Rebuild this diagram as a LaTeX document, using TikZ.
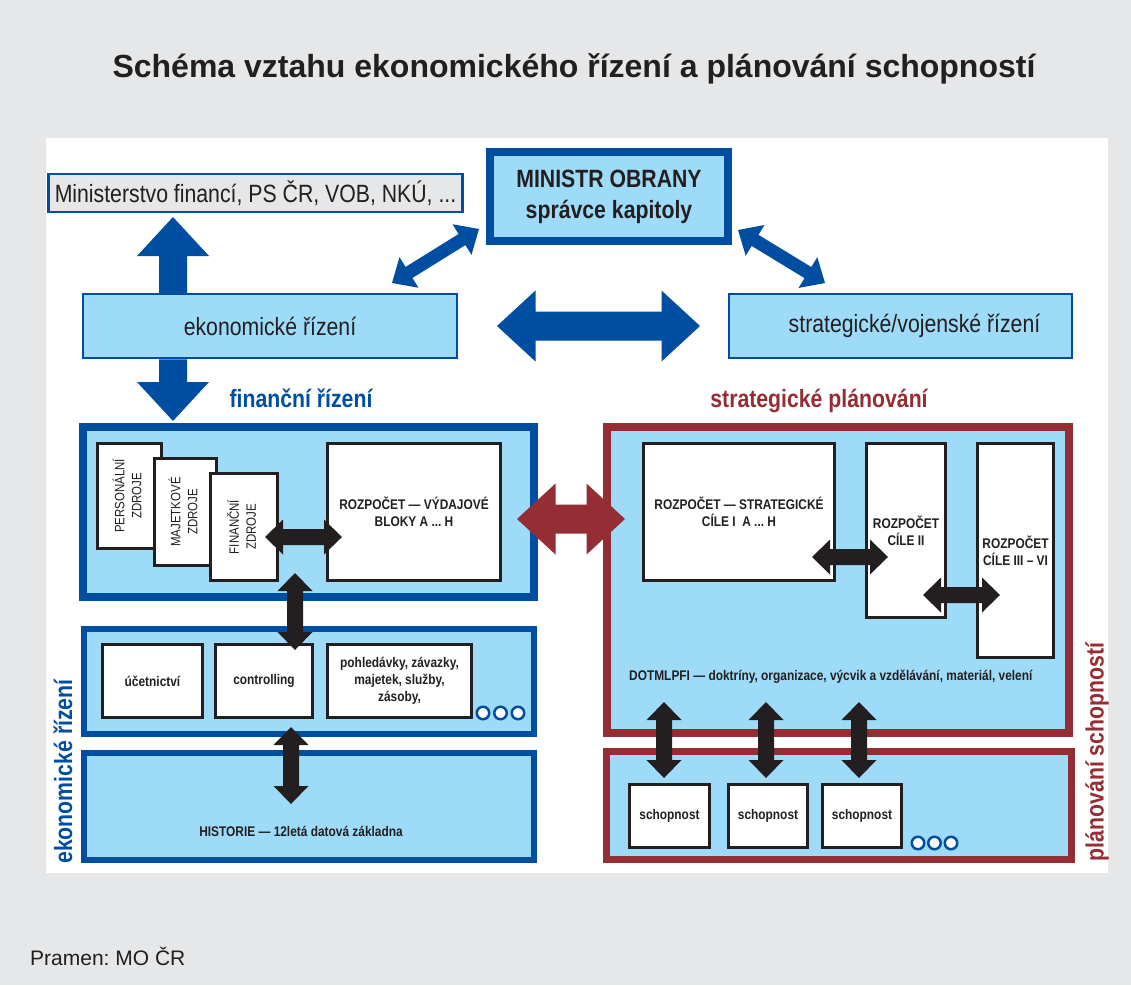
\documentclass[tikz,border=0pt]{standalone}
\usepackage{fontspec}
\setmainfont{Liberation Sans}
\newfontfamily\narrowfont[FakeStretch=0.85]{Liberation Sans}
\usetikzlibrary{calc}
\frenchspacing

\definecolor{pagegray}{HTML}{E6E7E8}
\definecolor{mzblue}{HTML}{004EA1}
\definecolor{paleblue}{HTML}{9EDBF8}
\definecolor{spred}{HTML}{952D34}
\definecolor{inkblack}{HTML}{231F20}

% fat arrow, one head: colour, from, to, half shaft, half head, head length
\newcommand\fatone[6]{%
  \coordinate (hb) at ($(#3)!#6!(#2)$);
  \fill[#1] ($(#2)!#4!90:(#3)$) -- ($(hb)!#4!-90:(#2)$) -- ($(hb)!#5!-90:(#2)$) -- (#3)
    -- ($(hb)!#5!90:(#2)$) -- ($(hb)!#4!90:(#2)$) -- ($(#2)!#4!-90:(#3)$) -- cycle;}
% fat arrow, two heads
\newcommand\fattwo[6]{%
  \coordinate (ha) at ($(#2)!#6!(#3)$);
  \coordinate (hb) at ($(#3)!#6!(#2)$);
  \fill[#1] (#2) -- ($(ha)!#5!90:(#3)$) -- ($(ha)!#4!90:(#3)$) -- ($(hb)!#4!-90:(#2)$)
    -- ($(hb)!#5!-90:(#2)$) -- (#3) -- ($(hb)!#5!90:(#2)$) -- ($(hb)!#4!90:(#2)$)
    -- ($(ha)!#4!-90:(#3)$) -- ($(ha)!#5!-90:(#3)$) -- cycle;}
\newcommand\blackarrow[2]{\fattwo{inkblack}{#1}{#2}{8pt}{17.5pt}{18pt}}

\tikzset{
  thinbox/.style={draw=mzblue, line width=2.5, fill=paleblue, inner sep=0, outer sep=0},
  heavybox/.style={draw=mzblue, line width=8, fill=paleblue, inner sep=0, outer sep=0},
  midbox/.style={draw=mzblue, line width=6, fill=paleblue, inner sep=0, outer sep=0},
  redbox/.style={draw=spred, line width=8, fill=paleblue, inner sep=0, outer sep=0},
  whitebox/.style={draw=inkblack, line width=3, fill=white, inner sep=0, outer sep=0,
    align=center, text=inkblack, font=\narrowfont\bfseries\fontsize{14}{17}\selectfont},
  zdrojbox/.style={whitebox, font=\narrowfont\fontsize{13.5}{17}\selectfont},
  ring/.style={circle, draw=mzblue, line width=2.5, fill=white, minimum size=12.5, inner sep=0},
  bigtxt/.style={text=inkblack, font=\narrowfont\fontsize{25}{31}\selectfont},
  bigbold/.style={text=inkblack, align=center, font=\narrowfont\bfseries\fontsize{25}{31}\selectfont},
  sectlbl/.style={inner sep=0, font=\narrowfont\bfseries\fontsize{25}{30}\selectfont},
  smalltxt/.style={inner sep=0, text=inkblack, font=\narrowfont\bfseries\fontsize{14}{17}\selectfont},
  titletxt/.style={inner sep=0, text=inkblack, font=\bfseries\fontsize{32}{38}\selectfont},
  srctxt/.style={inner sep=0, text=inkblack, font=\fontsize{21}{25}\selectfont}
}

\begin{document}
\begin{tikzpicture}[x=1pt,y=-1pt]

% Page
\fill[pagegray] (0,0) rectangle (1131,985);
\useasboundingbox (0,0) rectangle (1131,985);
\fill[white] (46,138) rectangle (1108,873);

% Title and source
\node[titletxt, anchor=base] (title) at (574,77) {Schéma vztahu ekonomického řízení a plánování schopností};
\node[srctxt, anchor=base west] (src) at (30,965) {Pramen: MO ČR};

% Top level
\node[thinbox, fill=pagegray, minimum width=414, minimum height=38, bigtxt] (mf) at (255.5,193) {Ministerstvo financí, PS ČR, VOB, NKÚ, ...};
\node[heavybox, minimum width=238, minimum height=89, bigbold] (mo) at (609,196.5) {MINISTR OBRANY\\správce kapitoly};
\node[thinbox, minimum width=374, minimum height=64, bigtxt] (ek) at (270,326) {ekonomické řízení};
\node[thinbox, minimum width=343, minimum height=64, bigtxt] (sv) at (900.5,326) {\hspace*{28pt}strategické/vojenské řízení};

% Section labels
\node[sectlbl, text=mzblue, anchor=base] (fzlbl) at (301,407) {finanční řízení};
\node[sectlbl, text=spred, anchor=base] (splbl) at (819,407) {strategické plánování};
\node[sectlbl, text=mzblue, rotate=90] (eklbl) at (63,771.5) {ekonomické řízení};
\node[sectlbl, text=spred, rotate=90] (pslbl) at (1097,752) {plánování schopností};

% Financni rizeni
\node[heavybox, minimum width=451, minimum height=170] (fr) at (308.5,512) {};
\node[zdrojbox, minimum width=64, minimum height=105] (pz) at (129.5,496) {\rotatebox{90}{\begin{tabular}{@{}c@{}}PERSONÁLNÍ\\ZDROJE\end{tabular}}};
\node[zdrojbox, minimum width=62, minimum height=107] (mz) at (185.5,512) {\rotatebox{90}{\begin{tabular}{@{}c@{}}MAJETKOVÉ\\ZDROJE\end{tabular}}};
\node[zdrojbox, minimum width=67, minimum height=107] (fz) at (244,527) {\rotatebox{90}{\begin{tabular}{@{}c@{}}FINANČNÍ\\ZDROJE\end{tabular}}};
\node[whitebox, minimum width=173, minimum height=137] (rv) at (414,512) {ROZPOČET — VÝDAJOVÉ\\BLOKY A ... H};

% Ucetnictvi
\node[midbox, minimum width=450, minimum height=105] (ea) at (309,681.5) {};
\node[whitebox, minimum width=100, minimum height=73] (uc) at (152.5,681) {účetnictví};
\node[whitebox, minimum width=97, minimum height=73] (co) at (264,681) {controlling};
\node[whitebox, minimum width=144, minimum height=73] (po) at (399.5,681) {pohledávky, závazky,\\majetek, služby,\\zásoby,};
\node[ring] (e1) at (483,713) {};
\node[ring] (e2) at (500.5,713) {};
\node[ring] (e3) at (518,713) {};

% Historie
\node[midbox, minimum width=450, minimum height=107] (hi) at (309,806.5) {};
\node[smalltxt] (hitxt) at ($(hi.south)+(-8,-29)$) {HISTORIE — 12letá datová základna};

% Strategicke planovani
\node[redbox, minimum width=462, minimum height=306] (sp) at (838,580) {};
\node[whitebox, minimum width=191, minimum height=137] (rs) at (739,512) {ROZPOČET — STRATEGICKÉ\\CÍLE I~ A ... H};
\node[whitebox, minimum width=79, minimum height=174] (r2) at (906,530.5) {ROZPOČET\\CÍLE II};
\node[whitebox, minimum width=76, minimum height=214] (r3) at (1015.5,550.5) {ROZPOČET\\CÍLE III – VI};
\node[smalltxt, anchor=west] (dot) at (629,677) {DOTMLPFI — doktríny, organizace, výcvik a vzdělávání, materiál, velení};

% Schopnosti
\node[redbox, line width=7, minimum width=465, minimum height=108] (sb) at (839,805.5) {};
\node[whitebox, minimum width=80, minimum height=63] (s1) at (669.5,816) {schopnost};
\node[whitebox, minimum width=79, minimum height=63] (s2) at (768,816) {schopnost};
\node[whitebox, minimum width=79, minimum height=63] (s3) at (862,816) {schopnost};
\node[ring] (p1) at (918,843) {};
\node[ring] (p2) at (934.5,843) {};
\node[ring] (p3) at (951,843) {};

% Blue arrows
\coordinate (ekup) at ($(ek.north west)+(90,-1.25)$);
\coordinate (mfdn) at ($(mf.south west)+(124.5,5)$);
\coordinate (ekdn) at ($(ek.south west)+(90,1.25)$);
\coordinate (frup) at ($(fr.north west)+(90,-6)$);
\fatone{mzblue}{ekup}{mfdn}{14pt}{36pt}{39pt}
\fatone{mzblue}{ekdn}{frup}{14pt}{36pt}{39pt}

\coordinate (ekne) at ($(ek.north east)+(-65,-11)$);
\coordinate (mosw) at ($(mo.south west)+(-11,-12)$);
\coordinate (mose) at ($(mo.south east)+(10,-11)$);
\coordinate (svnw) at ($(sv.north west)+(96,-11)$);
\fattwo{mzblue}{ekne}{mosw}{6.5pt}{18pt}{20pt}
\fattwo{mzblue}{mose}{svnw}{6.5pt}{18pt}{20pt}

\coordinate (eke) at ($(ek.east)+(40,0)$);
\coordinate (svw) at ($(sv.west)+(-29,0)$);
\fattwo{mzblue}{eke}{svw}{14.5pt}{35.5pt}{38.5pt}

% Red arrow
\coordinate (fre) at ($(fr.east)+(-17,7)$);
\coordinate (spw) at ($(sp.west)+(18,-61)$);
\fattwo{spred}{fre}{spw}{14.5pt}{35.5pt}{38.5pt}

% Black arrows
\coordinate (fza) at ($(fz.east)+(-12.5,10)$);
\coordinate (rva) at ($(rv.west)+(14.5,25)$);
\blackarrow{fza}{rva}
\coordinate (frb) at ($(fr.south)+(-13.5,-24)$);
\coordinate (cob) at ($(co.north)+(31,5.5)$);
\blackarrow{frb}{cob}
\coordinate (eab) at ($(ea.south)+(-18,-7)$);
\coordinate (hib) at ($(hi.north)+(-18,51)$);
\blackarrow{eab}{hib}

\coordinate (rsa) at ($(rs.east)+(-22.5,45)$);
\coordinate (r2a) at ($(r2.west)+(21.5,26.5)$);
\blackarrow{rsa}{r2a}
\coordinate (r2b) at ($(r2.east)+(-22.5,64.5)$);
\coordinate (r3b) at ($(r3.west)+(22.5,44.5)$);
\blackarrow{r2b}{r3b}

\coordinate (d1) at ($(s1.north)+(-5.5,-82.5)$);
\coordinate (t1) at ($(s1.north)+(-5.5,-6.5)$);
\blackarrow{d1}{t1}
\coordinate (d2) at ($(s2.north)+(-2,-82.5)$);
\coordinate (t2) at ($(s2.north)+(-2,-6.5)$);
\blackarrow{d2}{t2}
\coordinate (d3) at ($(s3.north)+(-3,-82.5)$);
\coordinate (t3) at ($(s3.north)+(-3,-6.5)$);
\blackarrow{d3}{t3}

\end{tikzpicture}
\end{document}
